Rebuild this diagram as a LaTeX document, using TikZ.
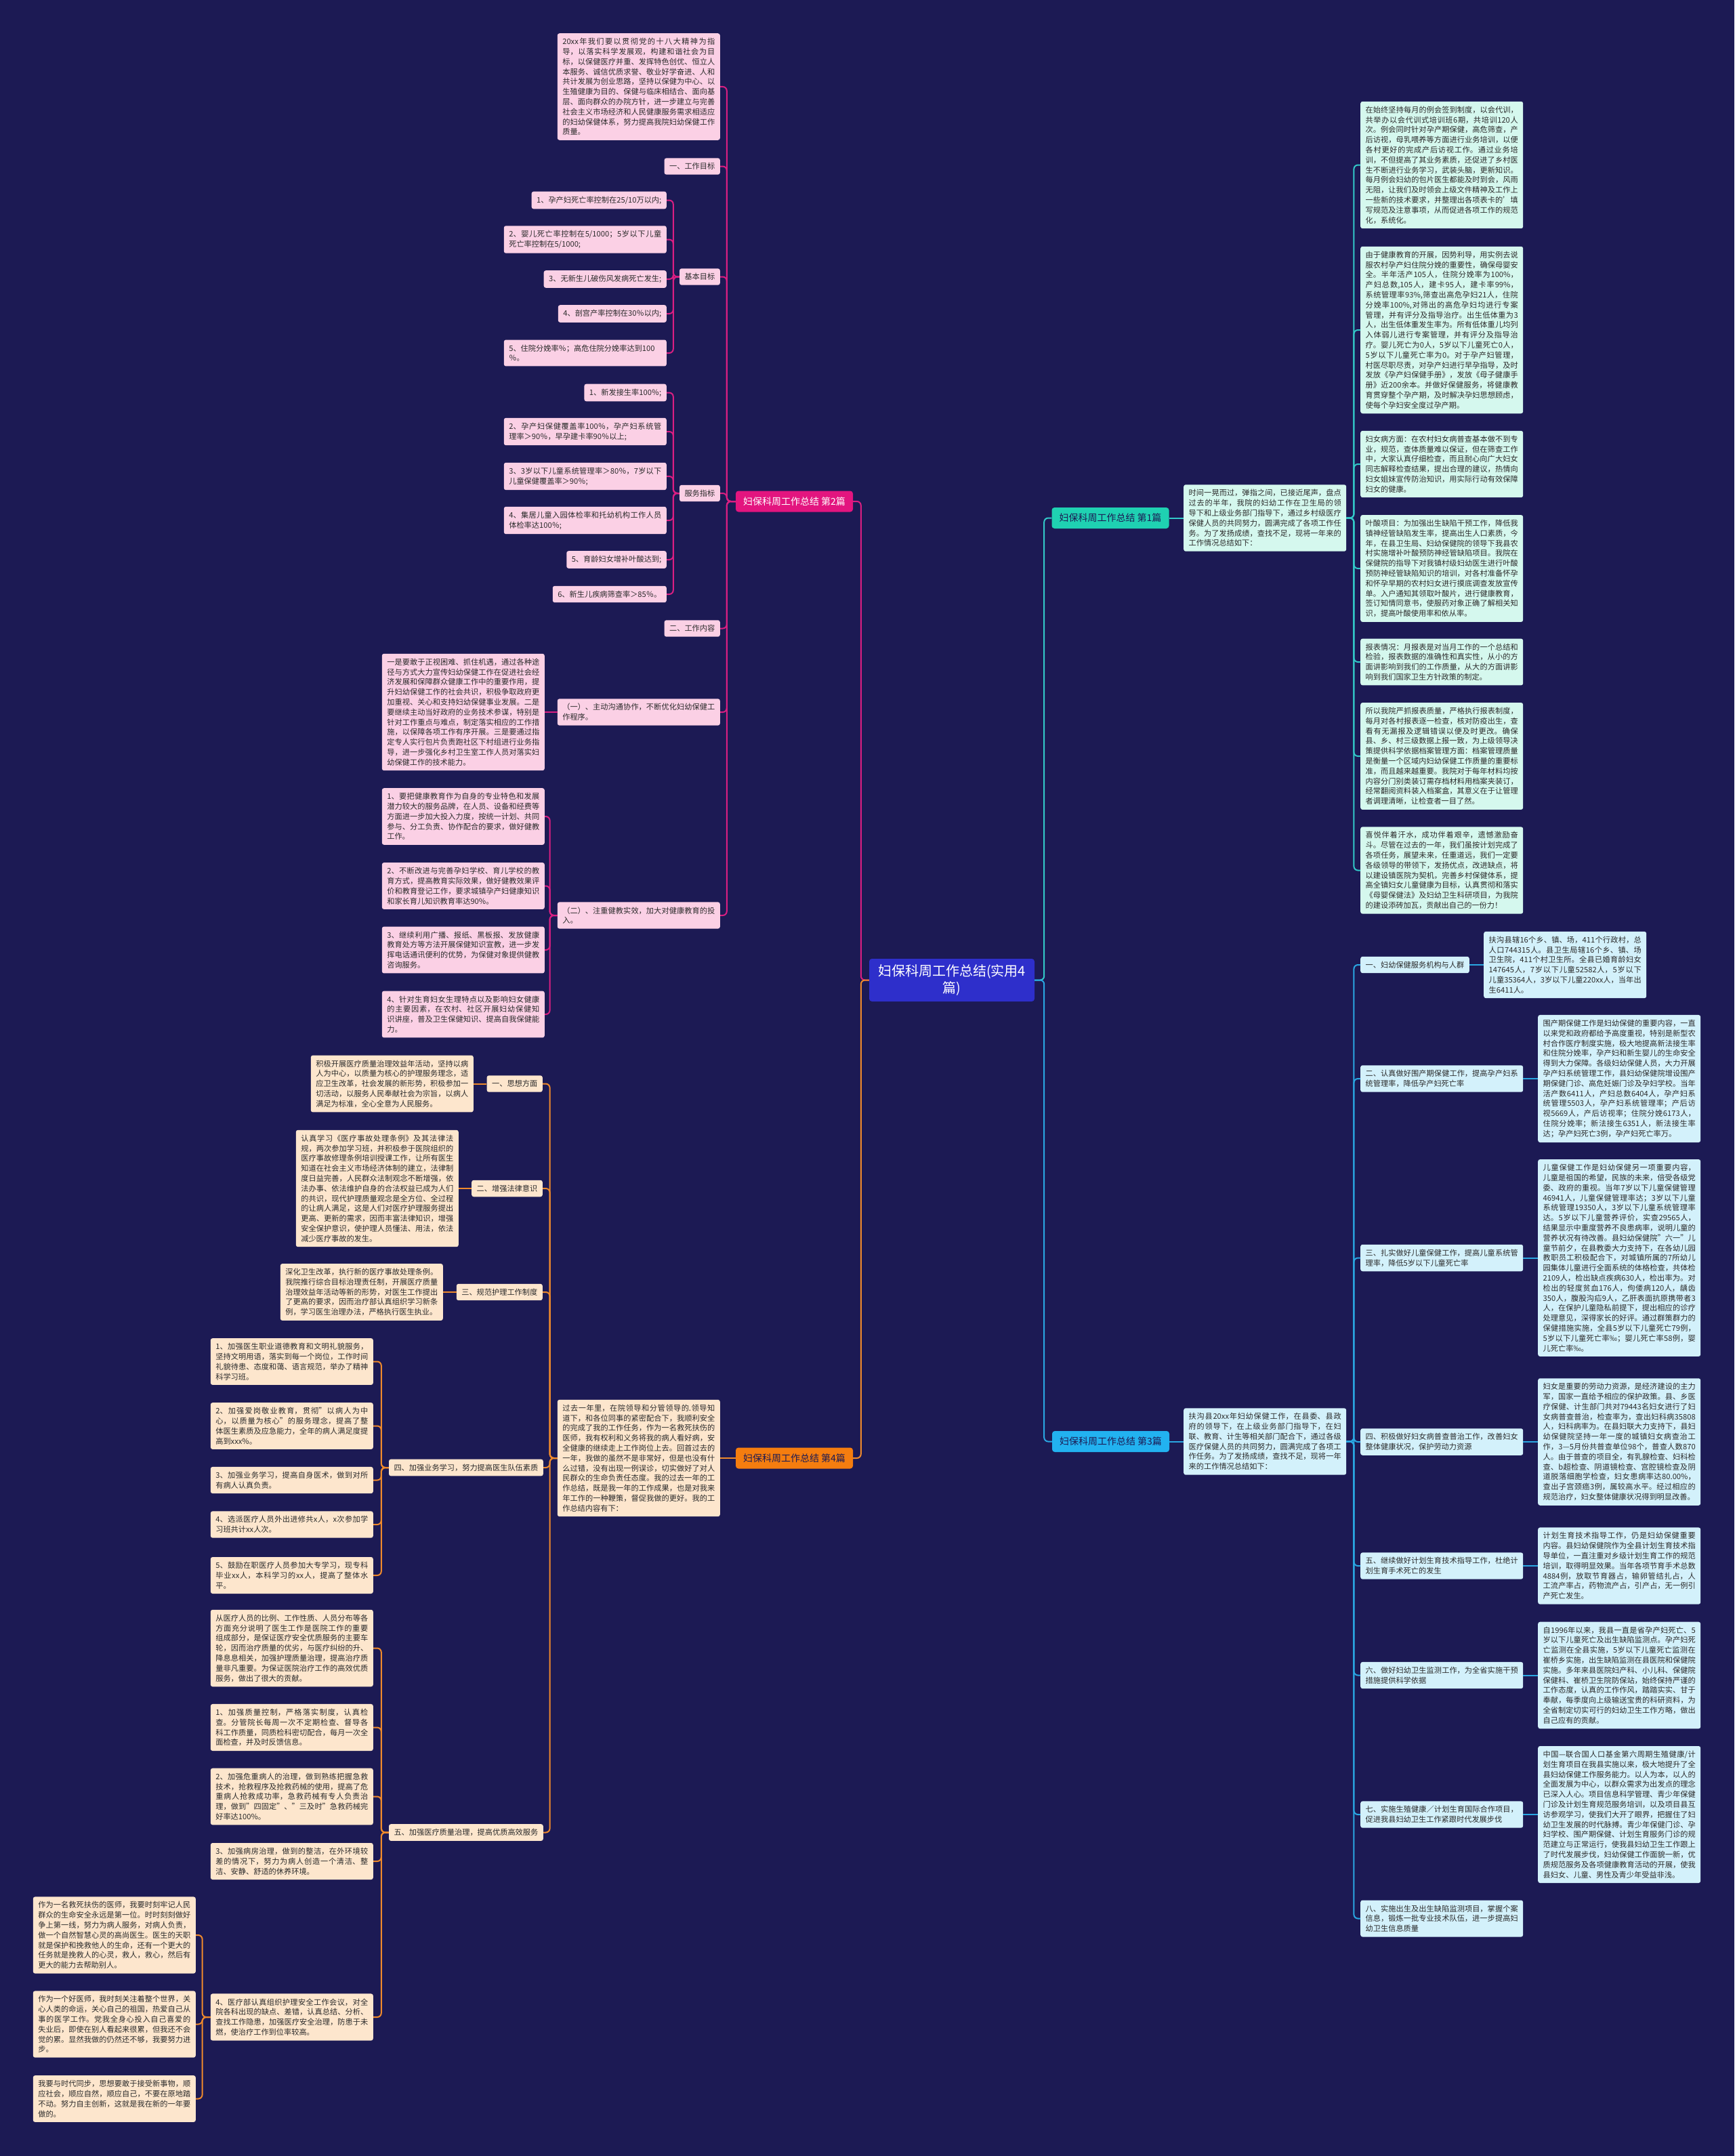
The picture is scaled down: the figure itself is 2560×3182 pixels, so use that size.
\documentclass[tikz,border=0pt]{standalone}
\usepackage{fontspec}
\setmainfont{Noto Sans CJK SC}
\XeTeXlinebreaklocale "zh"
\XeTeXlinebreakskip=0pt plus 1pt
\definecolor{bgc}{HTML}{1C1A54}
\definecolor{centf}{HTML}{2E2FCB}
\definecolor{magf}{HTML}{E3157F}
\definecolor{magl}{HTML}{DA1F82}
\definecolor{pinkf}{HTML}{FBD0E5}
\definecolor{orgf}{HTML}{F57D0F}
\definecolor{orgl}{HTML}{EF8A2C}
\definecolor{peachf}{HTML}{FDE6CD}
\definecolor{tealf}{HTML}{1FD1B2}
\definecolor{teall}{HTML}{33C9C9}
\definecolor{mintf}{HTML}{D5F8EE}
\definecolor{cyanf}{HTML}{22B2F0}
\definecolor{cyanl}{HTML}{2AA7E2}
\definecolor{bluef}{HTML}{D3F1FB}
\definecolor{txt}{HTML}{2B2B2B}
\begin{document}
\begin{tikzpicture}[x=1pt,y=-1pt,
 base/.style={rounded corners=3pt,inner xsep=7.5pt,inner ysep=7pt,text=txt,font=\fontsize{11.2}{14.8}\selectfont},
 wbox/.style={text width=225pt,align=justify},
 pk/.style={base,fill=pinkf},
 pe/.style={base,fill=peachf},
 mt/.style={base,fill=mintf},
 lb/.style={base,fill=bluef},
 lab/.style={rounded corners=4pt,minimum width=173pt,minimum height=31pt,inner sep=3pt,font=\fontsize{14}{16}\selectfont},
 cen/.style={fill=centf,text=white,rounded corners=4pt,minimum width=244pt,minimum height=63pt,align=center,font=\fontsize{20}{25}\selectfont,inner sep=4pt},
 conn/.style={line width=2pt,rounded corners=6pt},
 lm/.style={conn,draw=magl},
 lo/.style={conn,draw=orgl},
 lt/.style={conn,draw=teall},
 lc/.style={conn,draw=cyanl}]
\fill[bgc] (0,0) rectangle (2560,3182);

% ---------------- centre and main labels
\node[cen] (C) at (1405,1446.5) {妇保科周工作总结(实用4\\篇)};
\node[lab,fill=magf,text=white] (B2) at (1172.5,740) {妇保科周工作总结 第2篇};
\node[lab,fill=orgf,text=bgc] (B4) at (1172.5,2152) {妇保科周工作总结 第4篇};
\node[lab,fill=tealf,text=bgc] (B1) at (1639,764.5) {妇保科周工作总结 第1篇};
\node[lab,fill=cyanf,text=bgc] (B3) at (1639.5,2127.5) {妇保科周工作总结 第3篇};

% ---------------- branch 2
\node[pk,wbox,anchor=east] (t2i) at (1063,128) {20xx年我们要以贯彻党的十八大精神为指导，以落实科学发展观，构建和谐社会为目标，以保健医疗并重、发挥特色创优、恒立人本服务、诚信优质求誉、敬业好学奋进、人和共计发展为创业思路，坚持以保健为中心、以生殖健康为目的、保健与临床相结合、面向基层、面向群众的办院方针，进一步建立与完善社会主义市场经济和人民健康服务需求相适应的妇幼保健体系，努力提高我院妇幼保健工作质量。};
\node[pk,anchor=east] (t2g) at (1063,245.5) {一、工作目标};
\node[pk,anchor=east] (t2b) at (1063,408.5) {基本目标};
\node[pk,anchor=east] (b1) at (984,295.5) {1、孕产妇死亡率控制在25/10万以内;};
\node[pk,wbox,anchor=east] (b2) at (984,353.5) {2、婴儿死亡率控制在5/1000；5岁以下儿童死亡率控制在5/1000;};
\node[pk,anchor=east] (b3) at (984,412) {3、无新生儿破伤风发病死亡发生;};
\node[pk,anchor=east] (b4) at (984,463) {4、剖宫产率控制在30％以内;};
\node[pk,wbox,align=left,anchor=east] (b5) at (984,521) {5、住院分娩率％；高危住院分娩率达到100\\％。};
\node[pk,anchor=east] (t2s) at (1063,728) {服务指标};
\node[pk,anchor=east] (s1) at (984,579.5) {1、新发接生率100％;};
\node[pk,wbox,anchor=east] (s2) at (984,637) {2、孕产妇保健覆盖率100％，孕产妇系统管理率＞90％，早孕建卡率90％以上;};
\node[pk,wbox,anchor=east] (s3) at (984,703) {3、3岁以下儿童系统管理率＞80％，7岁以下儿童保健覆盖率＞90％;};
\node[pk,wbox,anchor=east] (s4) at (984,768) {4、集居儿童入园体检率和托幼机构工作人员体检率达100％;};
\node[pk,anchor=east] (s5) at (984,826) {5、育龄妇女增补叶酸达到;};
\node[pk,anchor=east] (s6) at (984,877) {6、新生儿疾病筛查率＞85％。};
\node[pk,anchor=east] (t2n) at (1063,927.5) {二、工作内容};
\node[pk,wbox,anchor=east] (t2c1) at (1063,1051) {（一）、主动沟通协作，不断优化妇幼保健工作程序。};
\node[pk,wbox,anchor=east] (c1d) at (804,1051) {一是要敢于正视困难、抓住机遇，通过各种途径与方式大力宣传妇幼保健工作在促进社会经济发展和保障群众健康工作中的重要作用，提升妇幼保健工作的社会共识，积极争取政府更加重视、关心和支持妇幼保健事业发展。二是要继续主动当好政府的业务技术参谋，特别是针对工作重点与难点，制定落实相应的工作措施，以保障各项工作有序开展。三是要通过指定专人实行包片负责跑社区下村组进行业务指导，进一步强化乡村卫生室工作人员对落实妇幼保健工作的技术能力。};
\node[pk,wbox,anchor=east] (t2c2) at (1063,1351) {（二）、注重健教实效，加大对健康教育的投入。};
\node[pk,wbox,anchor=east] (e1) at (804,1205) {1、要把健康教育作为自身的专业特色和发展潜力较大的服务品牌，在人员、设备和经费等方面进一步加大投入力度，按统一计划、共同参与、分工负责、协作配合的要求，做好健教工作。};
\node[pk,wbox,anchor=east] (e2) at (804,1307.5) {2、不断改进与完善孕妇学校、育儿学校的教育方式，提高教育实际效果，做好健教效果评价和教育登记工作，要求城镇孕产妇健康知识和家长育儿知识教育率达90\%。};
\node[pk,wbox,anchor=east] (e3) at (804,1402) {3、继续利用广播、报纸、黑板报、发放健康教育处方等方法开展保健知识宣教，进一步发挥电话通讯便利的优势，为保健对象提供健教咨询服务。};
\node[pk,wbox,anchor=east] (e4) at (804,1497) {4、针对生育妇女生理特点以及影响妇女健康的主要因素，在农村、社区开展妇幼保健知识讲座，普及卫生保健知识、提高自我保健能力。};

% ---------------- branch 4
\node[pe,wbox,anchor=east] (t4i) at (1063,2152) {过去一年里，在院领导和分管领导的.领导知道下，和各位同事的紧密配合下，我顺利安全的完成了我的工作任务，作为一名救死扶伤的医师，我有权利和义务将我的病人看好病，安全健康的继续走上工作岗位上去。回首过去的一年，我做的虽然不是非常好，但是也没有什么过错，没有出现一例误诊，切实做好了对人民群众的生命负责任态度。我的过去一年的工作总结，既是我一年的工作成果，也是对我来年工作的一种鞭策，督促我做的更好。我的工作总结内容有下：};
\node[pe,anchor=east] (f1) at (801,1599.5) {一、思想方面};
\node[pe,wbox,anchor=east] (f1d) at (699,1599.5) {积极开展医疗质量治理效益年活动，坚持以病人为中心，以质量为核心的护理服务理念，适应卫生改革，社会发展的新形势，积极参加一切活动，以服务人民奉献社会为宗旨，以病人满足为标准，全心全意为人民服务。};
\node[pe,anchor=east] (f2) at (801,1754) {二、增强法律意识};
\node[pe,wbox,anchor=east] (f2d) at (677,1754) {认真学习《医疗事故处理条例》及其法律法规，两次参加学习班，并积极参于医院组织的医疗事故修理条例培训授课工作，让所有医生知道在社会主义市场经济体制的建立，法律制度日益完善，人民群众法制观念不断增强，依法办事、依法维护自身的合法权益已成为人们的共识，现代护理质量观念是全方位、全过程的让病人满足，这是人们对医疗护理服务提出更高、更新的需求，因而丰富法律知识，增强安全保护意识，使护理人员懂法、用法，依法减少医疗事故的发生。};
\node[pe,anchor=east] (f3) at (801,1907) {三、规范护理工作制度};
\node[pe,wbox,anchor=east] (f3d) at (654,1907) {深化卫生改革，执行新的医疗事故处理条例。我院推行综合目标治理责任制，开展医疗质量治理效益年活动等新的形势，对医生工作提出了更高的要求，因而治疗部认真组织学习新条例，学习医生治理办法，严格执行医生执业。};
\node[pe,anchor=east] (f4) at (802,2166) {四、加强业务学习，努力提高医生队伍素质};
\node[pe,wbox,anchor=east] (i1) at (551,2009.5) {1、加强医生职业道德教育和文明礼貌服务，坚持文明用语，落实到每一个岗位，工作时间礼貌待患、态度和蔼、语言规范，举办了精神科学习班。};
\node[pe,wbox,anchor=east] (i2) at (551,2104.5) {2、加强爱岗敬业教育，贯彻"以病人为中心，以质量为核心"的服务理念，提高了整体医生素质及应急能力，全年的病人满足度提高到xxx\%。};
\node[pe,wbox,anchor=east] (i3) at (551,2184.5) {3、加强业务学习，提高自身医术，做到对所有病人认真负责。};
\node[pe,wbox,anchor=east] (i4) at (551,2250) {4、选派医疗人员外出进修共x人，x次参加学习班共计xx人次。};
\node[pe,wbox,anchor=east] (i5) at (551,2325) {5、鼓励在职医疗人员参加大专学习，现专科毕业xx人，本科学习的xx人，提高了整体水平。};
\node[pe,anchor=east] (f5) at (802,2704.5) {五、加强医疗质量治理，提高优质高效服务};
\node[pe,wbox,anchor=east] (p0) at (551,2432.5) {从医疗人员的比例、工作性质、人员分布等各方面充分说明了医生工作是医院工作的重要组成部分，是保证医疗安全优质服务的主要车轮，因而治疗质量的优劣，与医疗纠纷的升、降息息相关，加强护理质量治理，提高治疗质量非凡重要。为保证医院治疗工作的高效优质服务，做出了很大的贡献。};
\node[pe,wbox,anchor=east] (p1) at (551,2549.5) {1、加强质量控制，严格落实制度，认真检查。分管院长每周一次不定期检查、督导各科工作质量，同质检科密切配合，每月一次全面检查，并及时反馈信息。};
\node[pe,wbox,anchor=east] (p2) at (551,2651.5) {2、加强危重病人的治理，做到熟练把握急救技术，抢救程序及抢救药械的使用，提高了危重病人抢救成功率，急救药械有专人负责治理，做到"四固定"、"三及时"急救药械完好率达100\%。};
\node[pe,wbox,anchor=east] (p3) at (551,2747) {3、加强病房治理，做到的整洁，在外环境较差的情况下，努力为病人创造一个清洁、整洁、安静、舒适的休养环境。};
\node[pe,wbox,anchor=east] (p4) at (551,2977) {4、医疗部认真组织护理安全工作会议，对全院各科出现的缺点、差错，认真总结、分析、查找工作隐患，加强医疗安全治理，防患于未燃，使治疗工作到位率较高。};
\node[pe,wbox,anchor=east] (q1) at (289,2856) {作为一名救死扶伤的医师，我要时刻牢记人民群众的生命安全永远是第一位。时时刻刻做好争上第一线，努力为病人服务，对病人负责，做一个自然智慧心灵的高尚医生。医生的天职就是保护和挽救他人的生命，还有一个更大的任务就是挽救人的心灵，救人，救心，然后有更大的能力去帮助别人。};
\node[pe,wbox,anchor=east] (q2) at (289,2987.5) {作为一个好医师，我时刻关注着整个世界，关心人类的命运，关心自己的祖国，热爱自己从事的医学工作。党我全身心投入自己喜爱的失业后，即使在别人看起来很累，但我还不会觉的累。显然我做的仍然还不够，我要努力进步。};
\node[pe,wbox,anchor=east] (q3) at (289,3097.5) {我要与时代同步，思想要敢于接受新事物，顺应社会，顺应自然，顺应自己，不要在原地踏不动。努力自主创新，这就是我在新的一年要做的。};

% ---------------- branch 1
\node[mt,wbox,anchor=west] (t1i) at (1747,764.5) {时间一晃而过，弹指之间，已接近尾声，盘点过去的半年，我院的妇幼工作在卫生局的领导下和上级业务部门指导下，通过乡村级医疗保健人员的共同努力，圆满完成了各项工作任务。为了发扬成绩，查找不足，现将一年来的工作情况总结如下：};
\node[mt,wbox,anchor=west] (r1) at (2008,243.5) {在始终坚持每月的例会签到制度，以会代训，共举办以会代训式培训班6期，共培训120人次。例会同时针对孕产期保健，高危筛查，产后访视，母乳喂养等方面进行业务培训，以便各村更好的完成产后访视工作。通过业务培训，不但提高了其业务素质，还促进了乡村医生不断进行业务学习，武装头脑，更新知识。每月例会妇幼的包片医生都能及时到会，风雨无阻，让我们及时领会上级文件精神及工作上一些新的技术要求，并整理出各项表卡的'填写规范及注意事项，从而促进各项工作的规范化，系统化。};
\node[mt,wbox,anchor=west] (r2) at (2008,487) {由于健康教育的开展，因势利导，用实例去说服农村孕产妇住院分娩的重要性，确保母婴安全。半年活产105人，住院分娩率为100\%，产妇总数,105人，建卡95人，建卡率99\%，系统管理率93\%,筛查出高危孕妇21人，住院分娩率100\%,对筛出的高危孕妇均进行专案管理，并有评分及指导治疗。出生低体重为3人，出生低体重发生率为。所有低体重儿均列入体弱儿进行专案管理，并有评分及指导治疗。婴儿死亡为0人，5岁以下儿童死亡0人，5岁以下儿童死亡率为0。对于孕产妇管理，村医尽职尽责，对孕产妇进行早孕指导，及时发放《孕产妇保健手册》，发放《母子健康手册》近200余本。并做好保健服务，将健康教育贯穿整个孕产期，及时解决孕妇思想顾虑，使每个孕妇安全度过孕产期。};
\node[mt,wbox,anchor=west] (r3) at (2008,685) {妇女病方面：在农村妇女病普查基本做不到专业，规范，查体质量难以保证，但在筛查工作中，大家认真仔细检查，而且耐心向广大妇女同志解释检查结果，提出合理的建议，热情向妇女姐妹宣传防治知识，用实际行动有效保障妇女的健康。};
\node[mt,wbox,anchor=west] (r4) at (2008,839) {叶酸项目：为加强出生缺陷干预工作，降低我镇神经管缺陷发生率，提高出生人口素质，今年，在县卫生局、妇幼保健院的领导下我县农村实施增补叶酸预防神经管缺陷项目。我院在保健院的指导下对我镇村级妇幼医生进行叶酸预防神经管缺陷知识的培训，对各村准备怀孕和怀孕早期的农村妇女进行摸底调查发放宣传单。入户通知其领取叶酸片，进行健康教育，签订知情同意书，使服药对象正确了解相关知识，提高叶酸使用率和依从率。};
\node[mt,wbox,anchor=west] (r5) at (2008,977) {报表情况：月报表是对当月工作的一个总结和检验，报表数据的准确性和真实性，从小的方面讲影响到我们的工作质量，从大的方面讲影响到我们国家卫生方针政策的制定。};
\node[mt,wbox,anchor=west] (r6) at (2008,1116) {所以我院严抓报表质量，严格执行报表制度，每月对各村报表逐一检查，核对防疫出生，查看有无漏报及逻辑错误以便及时更改。确保县、乡、村三级数据上报一致，为上级领导决策提供科学依据档案管理方面：档案管理质量是衡量一个区域内妇幼保健工作质量的重要标准，而且越来越重要。我院对于每年材料均按内容分门别类装订需存档材料用档案夹装订，经常翻阅资料装入档案盒，其意义在于让管理者调理清晰，让检查者一目了然。};
\node[mt,wbox,anchor=west] (r7) at (2008,1284.5) {喜悦伴着汗水，成功伴着艰辛，遗憾激励奋斗。尽管在过去的一年，我们虽按计划完成了各项任务，展望未来，任重道远，我们一定要各级领导的带领下，发扬优点，改进缺点，将以建设镇医院为契机，完善乡村保健体系，提高全镇妇女儿童健康为目标，认真贯彻和落实《母婴保健法》及妇幼卫生科研项目，为我院的建设添砖加瓦，贡献出自己的一份力！};

% ---------------- branch 3
\node[lb,wbox,anchor=west] (t3i) at (1747,2127.5) {扶沟县20xx年妇幼保健工作，在县委、县政府的领导下，在上级业务部门指导下，在妇联、教育、计生等相关部门配合下，通过各级医疗保健人员的共同努力，圆满完成了各项工作任务。为了发扬成绩，查找不足，现将一年来的工作情况总结如下：};
\node[lb,anchor=west] (g1) at (2008,1424) {一、妇幼保健服务机构与人群};
\node[lb,wbox,anchor=west] (g1d) at (2190,1424) {扶沟县辖16个乡、镇、场，411个行政村，总人口744315人。县卫生局辖16个乡、镇、场卫生院，411个村卫生所。全县已婚育龄妇女147645人，7岁以下儿童52582人，5岁以下儿童35364人，3岁以下儿童220xx人，当年出生6411人。};
\node[lb,wbox,anchor=west] (g2) at (2008,1592) {二、认真做好围产期保健工作，提高孕产妇系统管理率，降低孕产妇死亡率};
\node[lb,wbox,anchor=west] (g2d) at (2270,1592) {围产期保健工作是妇幼保健的重要内容，一直以来党和政府都给予高度重视，特别是新型农村合作医疗制度实施，极大地提高新法接生率和住院分娩率，孕产妇和新生婴儿的生命安全得到大力保障。各级妇幼保健人员，大力开展孕产妇系统管理工作，县妇幼保健院增设围产期保健门诊、高危妊娠门诊及孕妇学校。当年活产数6411人，产妇总数6404人，孕产妇系统管理5503人，孕产妇系统管理率；产后访视5669人，产后访视率；住院分娩6173人，住院分娩率；新法接生6351人，新法接生率达；孕产妇死亡3例，孕产妇死亡率万。};
\node[lb,wbox,anchor=west] (g3) at (2008,1856.5) {三、扎实做好儿童保健工作，提高儿童系统管理率，降低5岁以下儿童死亡率};
\node[lb,wbox,anchor=west] (g3d) at (2270,1856.5) {儿童保健工作是妇幼保健另一项重要内容，儿童是祖国的希望，民族的未来，倍受各级党委、政府的重视。当年7岁以下儿童保健管理46941人，儿童保健管理率达；3岁以下儿童系统管理19350人，3岁以下儿童系统管理率达。5岁以下儿童营养评价，实查29565人，结果显示中重度营养不良患病率，说明儿童的营养状况有待改善。县妇幼保健院"六一"儿童节前夕，在县教委大力支持下，在各幼儿园教职员工积极配合下，对城镇所属的7所幼儿园集体儿童进行全面系统的体格检查，共体检2109人，检出缺点疾病630人，检出率为。对检出的轻度贫血176人，佝偻病120人，龋齿350人，腹股沟疝9人，乙肝表面抗原携带者3人，在保护儿童隐私前提下，提出相应的诊疗处理意见，深得家长的好评。通过群策群力的保健措施实施，全县5岁以下儿童死亡79例，5岁以下儿童死亡率‰；婴儿死亡率58例，婴儿死亡率‰。};
\node[lb,wbox,anchor=west] (g4) at (2008,2128) {四、积极做好妇女病普查普治工作，改善妇女整体健康状况，保护劳动力资源};
\node[lb,wbox,anchor=west] (g4d) at (2270,2128) {妇女是重要的劳动力资源，是经济建设的主力军，国家一直给予相应的保护政策。县、乡医疗保健、计生部门共对79443名妇女进行了妇女病普查普治，检查率为，查出妇科病35808人，妇科病率为。在县妇联大力支持下，县妇幼保健院坚持一年一度的城镇妇女病查治工作，3—5月份共普查单位98个，普查人数870人。由于普查的项目全，有乳腺检查、妇科检查、b超检查、阴道镜检查、宫腔镜检查及阴道脱落细胞学检查，妇女患病率达80.00\%，查出子宫颈癌3例，属较高水平。经过相应的规范治疗，妇女整体健康状况得到明显改善。};
\node[lb,wbox,anchor=west] (g5) at (2008,2311) {五、继续做好计划生育技术指导工作，杜绝计划生育手术死亡的发生};
\node[lb,wbox,anchor=west] (g5d) at (2270,2311) {计划生育技术指导工作，仍是妇幼保健重要内容。县妇幼保健院作为全县计划生育技术指导单位，一直注重对乡级计划生育工作的规范培训，取得明显效果。当年各项节育手术总数4884例，放取节育器占，输卵管结扎占，人工流产率占，药物流产占，引产占，无一例引产死亡发生。};
\node[lb,wbox,anchor=west] (g6) at (2008,2472.5) {六、做好妇幼卫生监测工作，为全省实施干预措施提供科学依据};
\node[lb,wbox,anchor=west] (g6d) at (2270,2472.5) {自1996年以来，我县一直是省孕产妇死亡、5岁以下儿童死亡及出生缺陷监测点。孕产妇死亡监测在全县实施，5岁以下儿童死亡监测在崔桥乡实施，出生缺陷监测在县医院和保健院实施。多年来县医院妇产科、小儿科、保健院保健科、崔桥卫生院防保站，始终保持严谨的工作态度，认真的工作作风，踏踏实实、甘于奉献，每季度向上级输送宝贵的科研资料，为全省制定切实可行的妇幼卫生工作方略，做出自己应有的贡献。};
\node[lb,wbox,anchor=west] (g7) at (2008,2678) {七、实施生殖健康／计划生育国际合作项目，促进我县妇幼卫生工作紧跟时代发展步伐};
\node[lb,wbox,anchor=west] (g7d) at (2270,2678) {中国—联合国人口基金第六周期生殖健康/计划生育项目在我县实施以来，极大地提升了全县妇幼保健工作服务能力。以人为本，以人的全面发展为中心，以群众需求为出发点的理念已深入人心。项目信息科学管理、青少年保健门诊及计划生育规范服务培训，以及项目县互访参观学习，使我们大开了眼界，把握住了妇幼卫生发展的时代脉搏。青少年保健门诊、孕妇学校、围产期保健、计划生育服务门诊的规范建立与正常运行，使我县妇幼卫生工作跟上了时代发展步伐，妇幼保健工作面貌一新，优质规范服务及各项健康教育活动的开展，使我县妇女、儿童、男性及青少年受益非浅。};
\node[lb,wbox,anchor=west] (g8) at (2008,2831.5) {八、实施出生及出生缺陷监测项目，掌握个案信息，锻炼一批专业技术队伍，进一步提高妇幼卫生信息质量};

% ---------------- connectors
\draw[lm] (C.west) -- ++(-12,0) |- (B2.east);
\draw[lo] (C.west) -- ++(-12,0) |- (B4.east);
\draw[lt] (C.east) -- ++(14,0) |- (B1.west);
\draw[lc] (C.east) -- ++(14,0) |- (B3.west);

\foreach \n in {t2i,t2g,t2b,t2s,t2n,t2c1,t2c2} \draw[lm] (B2.west) -- ++(-13,0) |- (\n.east);
\foreach \n in {b1,b2,b3,b4,b5} \draw[lm] (t2b.west) -- ++(-9,0) |- (\n.east);
\foreach \n in {s1,s2,s3,s4,s5,s6} \draw[lm] (t2s.west) -- ++(-9,0) |- (\n.east);
\draw[lm] (t2c1.west) -- (c1d.east);
\foreach \n in {e1,e2,e3,e4} \draw[lm] (t2c2.west) -- ++(-11,0) |- (\n.east);

\draw[lo] (B4.west) -- (t4i.east);
\foreach \n in {f1,f2,f3,f4,f5} \draw[lo] (t4i.west) -- ++(-11,0) |- (\n.east);
\draw[lo] (f1.west) -- (f1d.east);
\draw[lo] (f2.west) -- (f2d.east);
\draw[lo] (f3.west) -- (f3d.east);
\foreach \n in {i1,i2,i3,i4,i5} \draw[lo] (f4.west) -- ++(-11,0) |- (\n.east);
\foreach \n in {p0,p1,p2,p3,p4} \draw[lo] (f5.west) -- ++(-11,0) |- (\n.east);
\foreach \n in {q1,q2,q3} \draw[lo] (p4.west) -- ++(-12,0) |- (\n.east);

\draw[lt] (B1.east) -- (t1i.west);
\foreach \n in {r1,r2,r3,r4,r5,r6,r7} \draw[lt] (t1i.east) -- ++(11,0) |- (\n.west);

\draw[lc] (B3.east) -- (t3i.west);
\foreach \n in {g1,g2,g3,g4,g5,g6,g7,g8} \draw[lc] (t3i.east) -- ++(11,0) |- (\n.west);
\foreach \n in {g1,g2,g3,g4,g5,g6,g7} \draw[lc] (\n.east) -- (\n d.west);
\end{tikzpicture}
\end{document}
